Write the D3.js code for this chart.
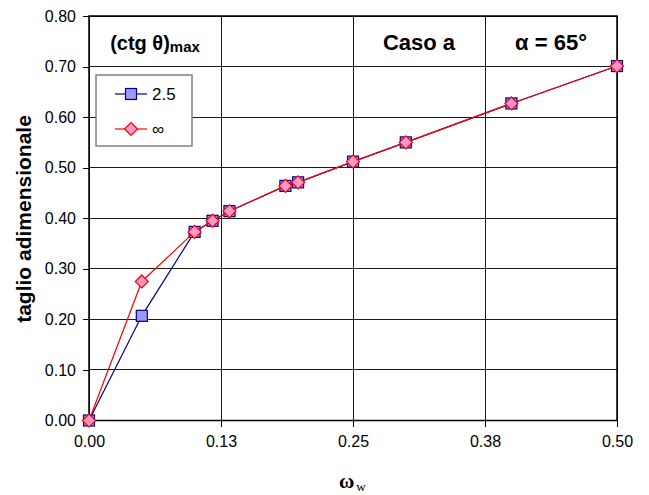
<!DOCTYPE html>
<html>
<head>
<meta charset="utf-8">
<script src="https://cdn.jsdelivr.net/npm/d3@7"></script>
<style>
  html, body { margin: 0; padding: 0; background: #fff; }
  svg { display: block; font-family: "Liberation Sans", Arial, sans-serif; }
</style>
</head>
<body>
<svg id="chart" width="649" height="495"></svg>
<script>
// ω_w values shared by both series
const omega = [0, 0.05, 0.10, 0.117, 0.133, 0.186, 0.198, 0.25, 0.30, 0.40, 0.50];
// dimensionless shear, (ctg θ)max = 2.5
const shear25 = [0, 0.207, 0.373, 0.395, 0.414, 0.464, 0.471, 0.512, 0.550, 0.627, 0.701];
// dimensionless shear, (ctg θ)max = ∞
const shearInf = [0, 0.275, 0.373, 0.395, 0.414, 0.464, 0.471, 0.512, 0.550, 0.627, 0.701];
const seriesNames = ["2.5", "∞"];
const xTicks = [0, 0.125, 0.25, 0.375, 0.5];
const yTicks = [0, 0.1, 0.2, 0.3, 0.4, 0.5, 0.6, 0.7, 0.8];

const svg = d3.select("#chart");
const plotL = 89, plotR = 617, plotT = 16, plotB = 420.5;

const x = d3.scaleLinear().domain([0, 0.5]).range([plotL, plotR]);
const y = d3.scaleLinear().domain([0, 0.8]).range([plotB, plotT]);

// grid
const grid = svg.append("g").attr("stroke", "#1a1a1a").attr("stroke-width", 1).attr("shape-rendering", "crispEdges");
grid.selectAll("line.h").data(yTicks).join("line").attr("class", "h")
  .attr("x1", plotL).attr("x2", plotR)
  .attr("y1", d => y(d)).attr("y2", d => y(d));
grid.selectAll("line.v").data(xTicks).join("line").attr("class", "v")
  .attr("y1", plotT).attr("y2", plotB)
  .attr("x1", d => x(d)).attr("x2", d => x(d));

// axes
const xAxis = d3.axisBottom(x).tickValues(xTicks).tickFormat(d3.format(".2f")).tickSizeOuter(0).tickSize(6).tickPadding(9);
const yAxis = d3.axisLeft(y).tickValues(yTicks).tickFormat(d3.format(".2f")).tickSizeOuter(0).tickSize(6).tickPadding(7);

const gx = svg.append("g").attr("transform", `translate(0,${plotB})`).call(xAxis);
const gy = svg.append("g").attr("transform", `translate(${plotL},0)`).call(yAxis);
[gx, gy].forEach(g => {
  g.selectAll("path").remove();
  g.selectAll("line").attr("stroke", "#000").attr("shape-rendering", "crispEdges");
  g.selectAll("text").attr("font-family", "Liberation Sans, Arial, sans-serif")
    .attr("font-size", 16).attr("fill", "#000");
});

// plot frame
svg.append("rect").attr("x", plotL).attr("y", plotT)
  .attr("width", plotR - plotL).attr("height", plotB - plotT)
  .attr("fill", "none").attr("stroke", "#000").attr("stroke-width", 1.5);

// header texts in the top row of cells
const headerY = 50;
const t1 = svg.append("text").attr("x", (x(0) + x(0.125)) / 2).attr("y", headerY)
  .attr("text-anchor", "middle").attr("font-weight", "bold").attr("font-size", 20);
t1.append("tspan").text("(ctg θ)");
t1.append("tspan").attr("font-size", 15).attr("dy", 2).text("max");

svg.append("text").attr("x", (x(0.25) + x(0.375)) / 2).attr("y", headerY)
  .attr("text-anchor", "middle").attr("font-weight", "bold").attr("font-size", 22)
  .text("Caso a");
svg.append("text").attr("x", (x(0.375) + x(0.5)) / 2).attr("y", headerY)
  .attr("text-anchor", "middle").attr("font-weight", "bold").attr("font-size", 22)
  .text("α = 65°");

// series
const line = d3.line().x(d => x(d[0])).y(d => y(d[1]));
const pts25 = omega.map((o, i) => [o, shear25[i]]);
const ptsInf = omega.map((o, i) => [o, shearInf[i]]);

const sq = 11, dm = 6.5;
const diamondPath = (cx, cy) => `M${cx},${cy - dm}L${cx + dm},${cy}L${cx},${cy + dm}L${cx - dm},${cy}Z`;

svg.append("path").datum(pts25).attr("d", line)
  .attr("fill", "none").attr("stroke", "#000080").attr("stroke-width", 1.2);
svg.append("g").selectAll("rect").data(pts25).join("rect")
  .attr("x", d => x(d[0]) - sq / 2).attr("y", d => y(d[1]) - sq / 2)
  .attr("width", sq).attr("height", sq)
  .attr("fill", "#9999ff").attr("stroke", "#000080").attr("stroke-width", 1.2);

svg.append("path").datum(ptsInf).attr("d", line)
  .attr("fill", "none").attr("stroke", "#ff0000").attr("stroke-width", 1.2);
svg.append("g").selectAll("path").data(ptsInf).join("path")
  .attr("d", d => diamondPath(x(d[0]), y(d[1])))
  .attr("fill", "#ff99cc").attr("stroke", "#ff0000").attr("stroke-width", 1.2);

// legend
const lg = svg.append("g");
lg.append("rect").attr("x", 96).attr("y", 75).attr("width", 96).attr("height", 71)
  .attr("fill", "#fff").attr("stroke", "#808080").attr("stroke-width", 1.5);
const legendRows = [
  { name: seriesNames[0], y: 94, color: "#000080", fill: "#9999ff", shape: "square" },
  { name: seriesNames[1], y: 129, color: "#ff0000", fill: "#ff99cc", shape: "diamond" }
];
legendRows.forEach(r => {
  lg.append("line").attr("x1", 115).attr("x2", 147).attr("y1", r.y).attr("y2", r.y)
    .attr("stroke", r.color).attr("stroke-width", 1.2);
  if (r.shape === "square") {
    lg.append("rect").attr("x", 131 - sq / 2).attr("y", r.y - sq / 2).attr("width", sq).attr("height", sq)
      .attr("fill", r.fill).attr("stroke", r.color).attr("stroke-width", 1.2);
  } else {
    lg.append("path").attr("d", diamondPath(131, r.y))
      .attr("fill", r.fill).attr("stroke", r.color).attr("stroke-width", 1.2);
  }
  lg.append("text").attr("x", 152).attr("y", r.y + 6).attr("font-size", 17).text(r.name);
});

// axis titles
svg.append("text")
  .attr("transform", `translate(31,219) rotate(-90)`)
  .attr("text-anchor", "middle").attr("font-weight", "bold").attr("font-size", 21)
  .text("taglio adimensionale");

const xt = svg.append("text").attr("x", 339).attr("y", 488)
  .attr("font-family", "Liberation Serif, Times New Roman, serif");
xt.append("tspan").attr("font-weight", "bold").attr("font-size", 21).text("ω");
xt.append("tspan").attr("font-size", 13).attr("dx", 2).attr("dy", 3).text("w");
</script>
</body>
</html>
